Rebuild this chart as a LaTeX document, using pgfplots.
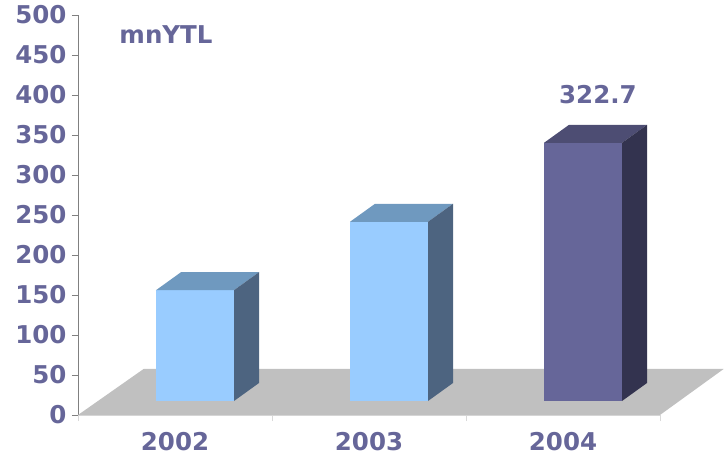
\documentclass[border=0pt]{standalone}
\usepackage{pgfplots}
\pgfplotsset{compat=1.18}
\usepackage{pgfplotstable}
\usepackage{fontspec}
\setmainfont{DejaVu Sans}
\definecolor{txt}{HTML}{666699}
\definecolor{floorc}{HTML}{C0C0C0}
\definecolor{bfront}{HTML}{99CCFF}
\definecolor{btop}{HTML}{6F99BF}
\definecolor{bside}{HTML}{4D6480}
\definecolor{pfront}{HTML}{666699}
\definecolor{ptop}{HTML}{4D4D73}
\definecolor{pside}{HTML}{33334F}
\newcommand\lbl{\fontsize{24.5bp}{28bp}\selectfont\bfseries}
\pgfdeclareplotmark{emptymark}{}
\pgfplotstableread{
x   v
0.5 138.5
1.5 224.0
}\bluebars
\pgfplotstableread{
x   v
2.5 322.7
}\purplebars
\pgfplotsset{
  bar3d/.style n args={3}{
    only marks, mark=emptymark,
    scatter, point meta=y,
    visualization depends on={rawy \as \val},
    scatter/@pre marker code/.code={%
      \pgfmathsetmacro\hh{0.8*\val}%
      \pgfmathsetmacro\ybot{14-\hh}%
      \pgfmathsetmacro\ybk{32-\hh}%
      \path[fill=#1, draw=none] (-19bp,\ybot bp) -- (59bp,\ybot bp) -- (59bp,14bp) -- (-19bp,14bp) -- cycle;
      \path[fill=#2, draw=none] (-19bp,14bp) -- (59bp,14bp) -- (84bp,32bp) -- (6bp,32bp) -- cycle;
      \path[fill=#3, draw=none] (59bp,14bp) -- (84bp,32bp) -- (84bp,\ybk bp) -- (59bp,\ybot bp) -- cycle;
    },
    scatter/@post marker code/.code={},
  }
}
\begin{document}
\begin{tikzpicture}
\useasboundingbox (-78bp,-44bp) rectangle (646bp,415bp);
\begin{axis}[
  at={(0,0)}, anchor=south west,
  scale only axis, width=582bp, height=400bp,
  xmin=0, xmax=3, ymin=0, ymax=500,
  clip=false,
  axis x line*=bottom, axis y line*=left,
  x axis line style={draw=gray!30, -},
  y axis line style={draw=gray, -},
  xtick={0,1,2,3}, x tick label as interval,
  xticklabels={2002,2003,2004},
  ytick={0,50,...,500},
  tick align=outside, major tick length=6bp,
  xtick style={draw=gray!30},
  ytick style={draw=gray},
  tick label style={font=\lbl, text=txt},
  /pgf/number format/assume math mode=true,
  xticklabel style={yshift=-8bp},
  yticklabel style={xshift=-2bp},
]
\addplot[fill=floorc, draw=none] coordinates {(0,0) (3,0) (3.328,57.5) (0.338,57.5)} -- cycle;
\addplot[bar3d={bfront}{btop}{bside}] table[x=x,y=v] {\bluebars};
\addplot[bar3d={pfront}{ptop}{pside}] table[x=x,y=v] {\purplebars};
\node[font=\lbl, text=txt] at (axis cs:2.68,400.6) {322.7};
\node[font=\lbl, text=txt] at (axis cs:0.4536,475.6) {mnYTL};
\end{axis}
\end{tikzpicture}
\end{document}
